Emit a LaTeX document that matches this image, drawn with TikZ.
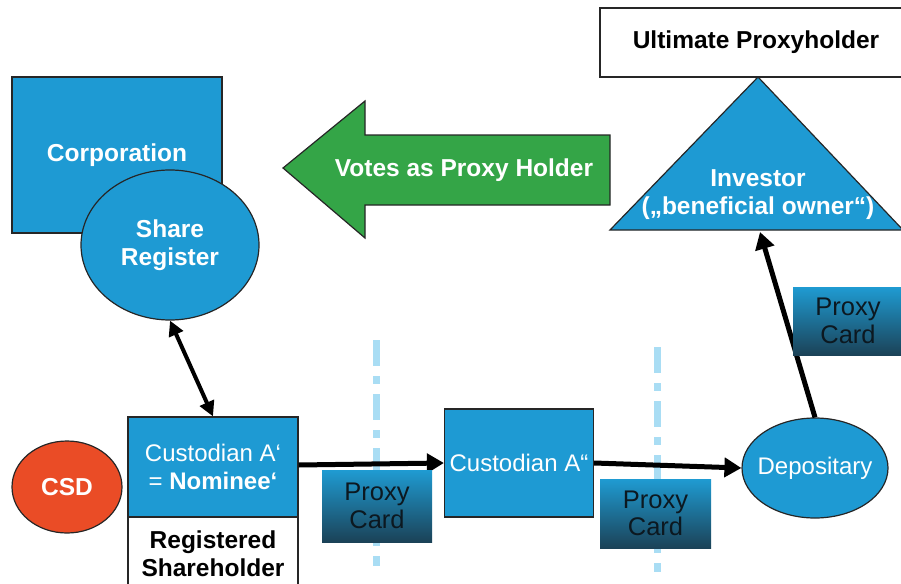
\documentclass[tikz,border=0pt]{standalone}
\usepackage{fontspec}
\setmainfont{Liberation Sans}
\usetikzlibrary{arrows.meta,shapes.geometric}
\definecolor{cblue}{HTML}{1E9AD3}
\definecolor{cgreen}{HTML}{34A547}
\definecolor{cred}{HTML}{EA4C26}
\definecolor{cline}{HTML}{A9DDF4}
\definecolor{cardtop}{HTML}{1F9BD2}
\definecolor{cardbot}{HTML}{1B4257}
\definecolor{cardtext}{HTML}{0C1820}
\tikzset{
  txt/.style={font=\fontsize{24.5}{28}\selectfont, align=center, inner sep=0pt},
  rtxt/.style={font=\fontsize{24}{28}\selectfont},
  bluebox/.style={txt, draw=black!85, line width=1.2pt, fill=cblue, text=white},
  whitebox/.style={txt, draw=black!85, line width=1.2pt, fill=white, text=black},
  card/.style={txt, font=\fontsize{25.5}{27.5}\selectfont, top color=cardtop, bottom color=cardbot, text=cardtext},
  sep/.style={draw=cline, line width=7pt, dash pattern=on 26pt off 10pt on 8pt off 10pt},
  conn/.style={draw=black, line width=5pt, -{Triangle[length=17pt,width=19pt]}},
  dconn/.style={draw=black, line width=4pt, {Triangle[length=15pt,width=15pt]}-{Triangle[length=15pt,width=15pt]}},
}
\begin{document}
\begin{tikzpicture}[x=1pt,y=-1pt]
\useasboundingbox (0,0) rectangle (901,583);
% separator lines
\coordinate (s1a) at (376,340); \coordinate (s1b) at (376,566);
\coordinate (s2a) at (657,347); \coordinate (s2b) at (657,572);
\draw[sep] (s1a) -- (s1b);
\draw[sep] (s2a) -- (s2b);
% corporation and share register
\node[bluebox, minimum width=210pt, minimum height=156pt] (corp) at (117,155) {\textbf{Corporation}};
\node[bluebox, ellipse, minimum width=178pt, minimum height=150pt] (sr) at (170,245) {\textbf{Share}\\\textbf{Register}};
% green arrow
\draw[fill=cgreen, draw=black!85, line width=1.2pt] (283,168) -- (365,101) -- (365,135) -- (610,135) -- (610,205) -- (365,205) -- (365,238) -- cycle;
\node[txt, text=white] (votes) at (464,170) {\textbf{Votes as Proxy Holder}};
% ultimate proxyholder and investor
\node[whitebox, minimum width=304pt, minimum height=69pt] (ult) at (752,42.5) {};
\node[txt] (ultt) at (756,42.5) {\textbf{Ultimate Proxyholder}};
\draw[fill=cblue, draw=black!85, line width=1.2pt] (758,77) -- (903,230) -- (610,230) -- cycle;
\node[txt, text=white] (inv) at (758,195) {\textbf{Investor}\\\textbf{(„beneficial owner“)}};
\coordinate (invb) at (760,232);
% bottom row
\node[txt, ellipse, fill=cred, draw=black!85, line width=1.2pt, text=white, minimum width=110pt, minimum height=92pt] (csd) at (67,487) {\textbf{CSD}};
\node[bluebox, rtxt, minimum width=170pt, minimum height=100pt] (ca) at (213,467) {Custodian A‘\\= \textbf{Nominee‘}};
\node[whitebox, minimum width=170pt, minimum height=74pt] (reg) at (213,554) {\textbf{Registered}\\\textbf{Shareholder}};
\node[bluebox, rtxt, minimum width=149pt, minimum height=108pt] (cb) at (519,463) {Custodian A“};
\node[bluebox, ellipse, minimum width=146pt, minimum height=100pt] (dep) at (815,468) {};
\node[txt, rtxt, text=white] (depl) at (dep.center) {Depositary};
% connectors
\draw[dconn] (sr.south) -- (ca.north);
\draw[conn] ([yshift=2pt]ca.east) -- (cb.west);
\draw[conn] (cb.east) -- (dep.west);
\draw[conn] (dep.north) -- (invb);
% proxy cards
\node[card, minimum width=110pt, minimum height=72pt] (pc1) at (377,506) {Proxy\\Card};
\node[card, minimum width=111pt, minimum height=69pt] (pc2) at (655.5,513.5) {Proxy\\Card};
\node[card, minimum width=110pt, minimum height=68pt] (pc3) at (848,321) {Proxy\\Card};
\end{tikzpicture}
\end{document}
